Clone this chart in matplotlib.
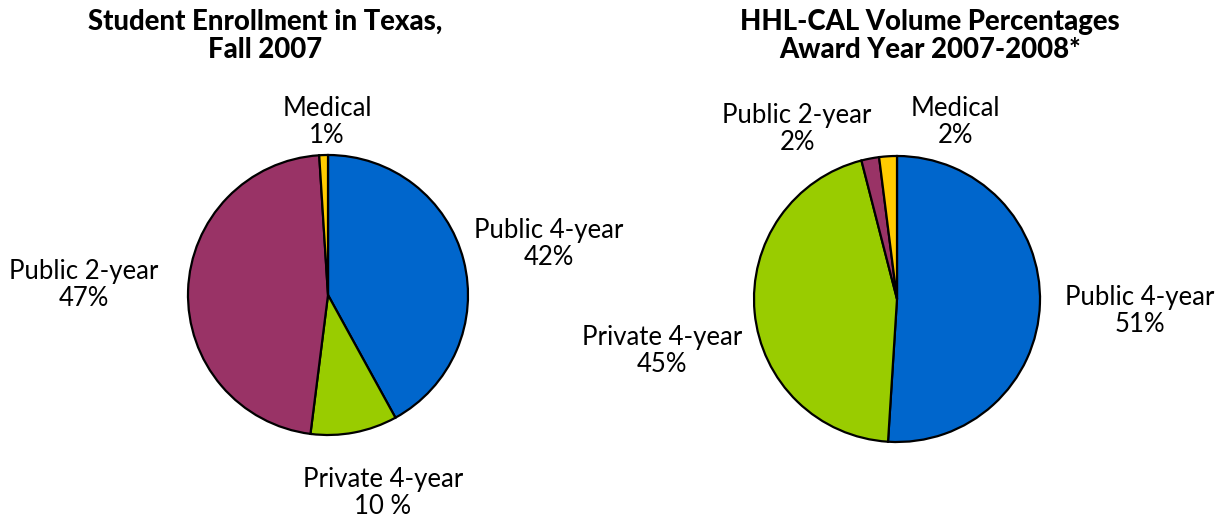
import matplotlib.pyplot as plt

plt.rcParams['font.family'] = ['Lato', 'DejaVu Sans']

labels = ["Public 4-year", "Private 4-year", "Public 2-year", "Medical"]
colors = ["#0066CC", "#99CC00", "#993366", "#FFCC00"]

enroll_values = [42, 10, 47, 1]
enroll_text = ["42%", "10 %", "47%", "1%"]

volume_values = [51, 45, 2, 2]
volume_text = ["51%", "45%", "2%", "2%"]

W, H = 1224, 521
fig = plt.figure(figsize=(W / 100, H / 100), dpi=100)


def draw_pie(cx, cy, r, values, texts, label_pos, title, title_x):
    ax = fig.add_axes([(cx - r) / W, (H - cy - r) / H, 2 * r / W, 2 * r / H])
    ax.pie(values, colors=colors, startangle=90, counterclock=False,
           wedgeprops=dict(edgecolor="black", linewidth=1.6))
    ax.set_xlim(-1, 1)
    ax.set_ylim(-1, 1)
    ax.set_aspect("equal")
    ax.axis("off")
    for name, txt, (x, y) in zip(labels, texts, label_pos):
        ax.text(x, y, f"{name}\n{txt}", ha="center", va="center",
                fontsize=18.5, linespacing=1.13, clip_on=False)
    fig.text(title_x / W, 1 - 36 / H, title, ha="center", va="center",
             fontsize=19.8, fontweight="black", linespacing=1.08)


draw_pie(328, 295, 140, enroll_values, enroll_text,
         [(1.579, 0.364), (0.393, -1.414), (-1.743, 0.071), (-0.007, 1.236)],
         "Student Enrollment in Texas,\nFall 2007", 265)

draw_pie(897, 299, 143, volume_values, volume_text,
         [(1.699, -0.084), (-1.643, -0.364), (-0.699, 1.189), (0.406, 1.238)],
         "HHL-CAL Volume Percentages\nAward Year 2007-2008*", 930)

fig.savefig("out.png", dpi=100)
